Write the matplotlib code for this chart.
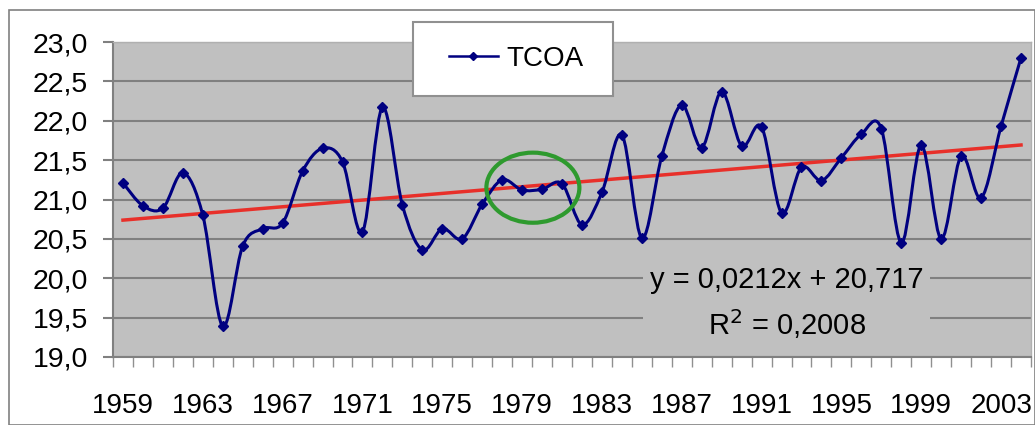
import matplotlib
matplotlib.use("Agg")
import matplotlib.pyplot as plt
from matplotlib.patches import Ellipse, Rectangle, PathPatch
from matplotlib.path import Path
from matplotlib.lines import Line2D
from matplotlib.ticker import FixedLocator

plt.rcParams['font.family'] = ['Liberation Sans', 'DejaVu Sans']

years = list(range(1959, 2005))
tcoa = [21.21, 20.92, 20.89, 21.34, 20.80, 19.39, 20.41, 20.63, 20.70, 21.36,
        21.65, 21.48, 20.59, 22.17, 20.93, 20.36, 20.63, 20.50, 20.94, 21.25,
        21.12, 21.13, 21.20, 20.68, 21.09, 21.82, 20.51, 21.55, 22.20, 21.66,
        22.37, 21.68, 21.92, 20.83, 21.41, 21.24, 21.53, 21.83, 21.90, 20.45,
        21.69, 20.50, 21.55, 21.02, 21.93, 22.80]
slope = 0.0212
intercept = 20.717
r2_text = "0,2008"
tick_years = list(range(1959, 2004, 4))
y_ticks = [19.0, 19.5, 20.0, 20.5, 21.0, 21.5, 22.0, 22.5, 23.0]

W, H = 1035, 425
idx = list(range(1, len(years) + 1))
trend = [slope * i + intercept for i in idx]

fig = plt.figure(figsize=(W / 100, H / 100), dpi=100)
fig.patch.set_facecolor('white')
ax = fig.add_axes([113 / W, 68 / H, 918 / W, 315 / H])
ax.set_facecolor('#c0c0c0')

ax.set_xlim(0.5, len(years) + 0.5)
ax.set_ylim(19.0, 23.0)
ax.set_yticks(y_ticks)
ax.set_yticklabels([f"{v:.1f}".replace('.', ',') for v in y_ticks], fontsize=20.5)
ax.yaxis.grid(True, color='#808080', linewidth=1.5, zorder=0.5)
ax.set_axisbelow(True)

ax.set_xticks([years.index(y) + 1 for y in tick_years])
ax.set_xticklabels([str(y) for y in tick_years], fontsize=20)
ax.xaxis.set_minor_locator(FixedLocator([i + 0.5 for i in range(0, len(years) + 1)]))
ax.tick_params(axis='x', which='major', length=0, pad=26)
ax.tick_params(axis='x', which='minor', length=7, color='#909090', width=1)
ax.tick_params(axis='y', which='major', length=7, color='#808080', width=1.5, pad=11)

for s in ['top', 'right']:
    ax.spines[s].set_color('#b0b0b0')
    ax.spines[s].set_linewidth(1)
for s in ['left', 'bottom']:
    ax.spines[s].set_color('#808080')
    ax.spines[s].set_linewidth(1.5)

# background box of the trendline label (hides gridlines behind it)
ax.add_patch(Rectangle((643 / W, 1 - 348 / H), (930 - 643) / W, (348 - 258) / H,
                       transform=fig.transFigure, facecolor='#c0c0c0',
                       edgecolor='none', zorder=1))

ax.plot(idx, trend, color='#e8302a', linewidth=2.5, zorder=3)

# smoothed line (Excel-style Bezier through the data points)
pts = list(zip(idx, tcoa))
verts = [pts[0]]
codes = [Path.MOVETO]
n = len(pts)
for i in range(n - 1):
    p0 = pts[i - 1] if i > 0 else pts[i]
    p1 = pts[i]
    p2 = pts[i + 1]
    p3 = pts[i + 2] if i + 2 < n else pts[i + 1]
    c1 = (p1[0] + (p2[0] - p0[0]) / 6, p1[1] + (p2[1] - p0[1]) / 6)
    c2 = (p2[0] - (p3[0] - p1[0]) / 6, p2[1] - (p3[1] - p1[1]) / 6)
    verts += [c1, c2, p2]
    codes += [Path.CURVE4] * 3
ax.add_patch(PathPatch(Path(verts, codes), facecolor='none', edgecolor='#000080',
                       linewidth=2.2, zorder=4))
ax.plot(idx, tcoa, linestyle='none', marker='D', markersize=5.5, color='#000080', zorder=5)

ell = Ellipse((21.54, 21.15), width=4.66, height=0.89, fill=False,
              edgecolor='#2e9a2e', linewidth=3, zorder=6)
ax.add_patch(ell)

ax.text(787 / W, 1 - 280 / H, "y = 0,0212x + 20,717", transform=fig.transFigure,
        fontsize=21, ha='center', va='center', zorder=7)
ax.text(787 / W, 1 - 324 / H, "R$^{2}$ = " + r2_text, transform=fig.transFigure,
        fontsize=21, ha='center', va='center', zorder=7)

# legend box (drawn as a rectangle for exact size) and legend content
fig.patches.append(Rectangle((413 / W, 1 - 96 / H), 200 / W, 74 / H,
                             transform=fig.transFigure, facecolor='white',
                             edgecolor='#909090', linewidth=1.5, zorder=9))
handle = Line2D([], [], color='#000080', linewidth=1.8, marker='D', markersize=4)
leg = fig.legend(handles=[handle], labels=['TCOA'], loc='center',
                 bbox_to_anchor=(516 / W, 1 - 59 / H),
                 fontsize=20, frameon=False, borderpad=0.5, handlelength=1.75,
                 borderaxespad=0, handletextpad=0.3)
leg.set_zorder(10)

fig.patches.append(Rectangle((9 / W, 0), (W - 9) / W, 1 - 10 / H, transform=fig.transFigure,
                             fill=False, edgecolor='#808080', linewidth=1.2))

fig.savefig('out.png', dpi=100)
